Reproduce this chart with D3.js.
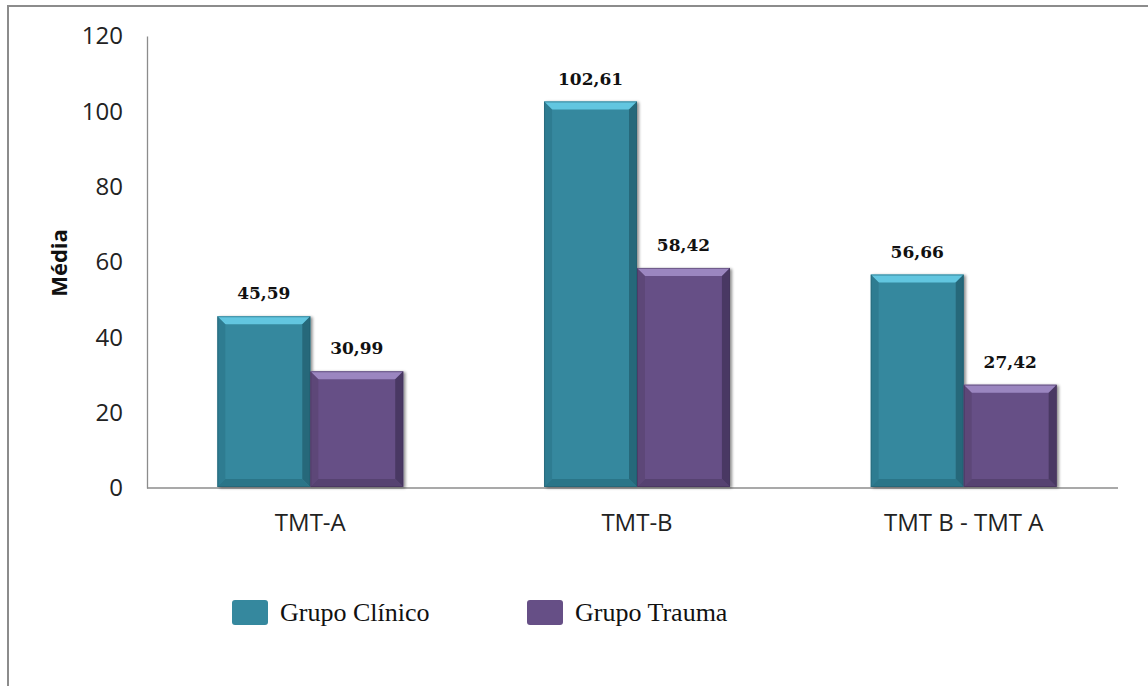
<!DOCTYPE html>
<html><head><meta charset="utf-8">
<script src="https://cdn.jsdelivr.net/npm/d3@7"></script>
<style>body{margin:0;background:#fff}svg{display:block}</style>
</head><body>
<svg id="c" width="1148" height="686"></svg>
<script>
const categories = ["TMT-A", "TMT-B", "TMT B - TMT A"];
const seriesNames = ["Grupo Clínico", "Grupo Trauma"];
const clinico = [45.59, 102.61, 56.66];
const trauma = [30.99, 58.42, 27.42];
const yTicks = [0, 20, 40, 60, 80, 100, 120];
const labels = [["45,59","102,61","56,66"],["30,99","58,42","27,42"]];

const colors = [
  {main:"#35889e", top:"#62c6e0", side:"#2b7489", bottom:"#2a6f82", edge:"#1f5b6b"},
  {main:"#664f86", top:"#9b86c0", side:"#57436f", bottom:"#52406b", edge:"#3f3055"}
];
const seriesVals = [clinico, trauma];

const svg = d3.select("#c");
svg.append("rect").attr("x",8).attr("y",6).attr("width",1300).attr("height",1000)
  .attr("fill","none").attr("stroke","#8c8c8c").attr("stroke-width",2);

const pLeft = 147, pRight = 1118, pTop = 36, pBottom = 488;
const y = d3.scaleLinear().domain([0,120]).range([pBottom, pTop]);
const x0 = d3.scaleBand().domain(categories).range([152, 1122]).paddingInner(0.431).paddingOuter(0.2);
const x1 = d3.scaleBand().domain(seriesNames).range([0, x0.bandwidth()]);

const yAxis = d3.axisLeft(y).tickValues(yTicks).tickSize(0).tickPadding(24);
const gy = svg.append("g").attr("transform",`translate(${pLeft},0)`).call(yAxis);
gy.select(".domain").attr("stroke","#8c8c8c").attr("stroke-width",1.3);
gy.selectAll("text").attr("font-family","'Open Sans'").attr("font-size",24).attr("fill","#222");

const xAxis = d3.axisBottom(x0).tickSize(0).tickPadding(26);
const gx = svg.append("g").attr("transform",`translate(0,${pBottom})`).call(xAxis);
gx.select(".domain").remove();
gx.selectAll("text").attr("font-family","'Open Sans'").attr("font-size",24).attr("fill","#222");
svg.append("line").attr("x1",pLeft).attr("x2",pRight).attr("y1",y(0)).attr("y2",y(0))
  .attr("stroke","#8c8c8c").attr("stroke-width",1.3);

const defs = svg.append("defs");
const f = defs.append("filter").attr("id","sh").attr("x","-10%").attr("y","-10%").attr("width","130%").attr("height","130%");
f.append("feGaussianBlur").attr("in","SourceAlpha").attr("stdDeviation",1.5);
f.append("feOffset").attr("dx",2).attr("dy",1).attr("result","ob");
f.append("feComponentTransfer").append("feFuncA").attr("type","linear").attr("slope",0.45);
const m = f.append("feMerge"); m.append("feMergeNode"); m.append("feMergeNode").attr("in","SourceGraphic");

const bars = [];
seriesVals.forEach((vals, si) => {
  vals.forEach((v, ci) => {
    bars.push({si, ci, v, x: x0(categories[ci]) + x1(seriesNames[si]), w: x1.bandwidth(), y: y(v), h: pBottom - y(v)});
  });
});

const b = 8;
const g = svg.append("g");
bars.forEach(d => {
  const c = colors[d.si];
  const gg = g.append("g").attr("filter","url(#sh)");
  const x = d.x, yy = d.y, w = d.w, h = d.h - 1;
  gg.append("rect").attr("x",x).attr("y",yy).attr("width",w).attr("height",h).attr("fill",c.main);
  gg.append("path").attr("d",`M${x},${yy}L${x+w},${yy}L${x+w-b},${yy+b}L${x+b},${yy+b}Z`).attr("fill",c.top);
  gg.append("path").attr("d",`M${x},${yy}L${x+b},${yy+b}L${x+b},${yy+h-b}L${x},${yy+h}Z`).attr("fill",c.side).attr("opacity",0.6);
  gg.append("path").attr("d",`M${x+w},${yy}L${x+w-b},${yy+b}L${x+w-b},${yy+h-b}L${x+w},${yy+h}Z`).attr("fill",c.edge).attr("opacity",0.7);
  gg.append("path").attr("d",`M${x},${yy+h}L${x+b},${yy+h-b}L${x+w-b},${yy+h-b}L${x+w},${yy+h}Z`).attr("fill",c.bottom).attr("opacity",0.8);
  gg.append("rect").attr("x",x+0.5).attr("y",yy+0.5).attr("width",w-1).attr("height",h-1).attr("fill","none").attr("stroke",c.edge).attr("stroke-opacity",0.5);
  svg.append("text").attr("x", x + w/2).attr("y", yy - 17).attr("text-anchor","middle")
    .attr("font-family","'DejaVu Serif'").attr("font-weight","bold").attr("font-size",17).attr("fill","#111")
    .text(labels[d.si][d.ci]);
});

svg.append("text").attr("transform","translate(67,263) rotate(-90)").attr("text-anchor","middle")
  .attr("font-family","'Open Sans'").attr("font-weight","bold").attr("font-size",22).attr("fill","#111").text("Média");

const legX = [232, 527];
seriesNames.forEach((n, i) => {
  svg.append("rect").attr("x",legX[i]).attr("y",600).attr("width",36).attr("height",25).attr("rx",3)
    .attr("fill", colors[i].main);
  svg.append("text").attr("x",legX[i]+48).attr("y",621).attr("font-family","'Liberation Serif'")
    .attr("font-size",26).attr("fill","#111").text(n);
});
</script>
</body></html>
